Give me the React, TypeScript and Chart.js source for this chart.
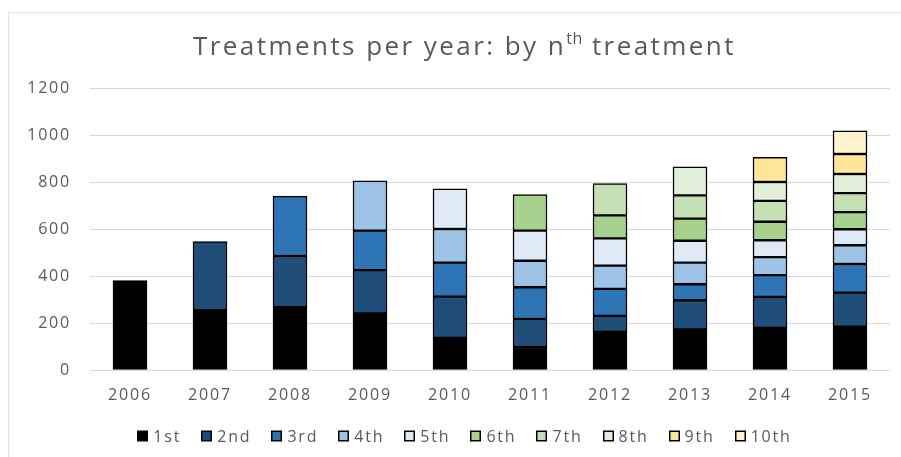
import React, { useEffect, useRef } from "react";
import { Chart, registerables } from "chart.js";

Chart.register(...registerables);

const years = ["2006", "2007", "2008", "2009", "2010", "2011", "2012", "2013", "2014", "2015"];
const seriesLabels = ["1st", "2nd", "3rd", "4th", "5th", "6th", "7th", "8th", "9th", "10th"];
const seriesColors = ["#000000", "#1F4E79", "#2E75B6", "#9DC3E6", "#DEEBF7", "#A9D18E", "#C5E0B4", "#E2F0D9", "#FFE699", "#FFF2CC"];

const s1st = [380, 255, 267, 241, 137, 98, 162, 173, 179, 184];
const s2nd = [null, 291, 218, 184, 175, 119, 68, 124, 132, 145];
const s3rd = [null, null, 255, 168, 145, 135, 115, 68, 93, 122];
const s4th = [null, null, null, 212, 143, 113, 99, 92, 76, 80];
const s5th = [null, null, null, null, 171, 128, 116, 93, 72, 68];
const s6th = [null, null, null, null, null, 153, 98, 94, 79, 73];
const s7th = [null, null, null, null, null, null, 135, 99, 89, 81];
const s8th = [null, null, null, null, null, null, null, 122, 80, 81];
const s9th = [null, null, null, null, null, null, null, null, 105, 85];
const s10th = [null, null, null, null, null, null, null, null, null, 99];

const seriesValues = [s1st, s2nd, s3rd, s4th, s5th, s6th, s7th, s8th, s9th, s10th];

const yTicks = [0, 200, 400, 600, 800, 1000, 1200];

const TITLE_PRE = "Treatments per year: by n";
const TITLE_SUP = "th";
const TITLE_POST = " treatment";

const FONT = "'Open Sans', 'DejaVu Sans', sans-serif";
const TEXT_COLOR = "#595959";

const spacingPlugin = {
  id: "spacing",
  beforeDraw(chart: any) {
    const ctx = chart.ctx as any;
    ctx.letterSpacing = "1.8px";
  },
};

const decorPlugin = {
  id: "decor",
  afterDraw(chart: any) {
    const ctx = chart.ctx as any;
    ctx.save();
    // outer chart border (partially visible)
    ctx.strokeStyle = "#e3e3e3";
    ctx.lineWidth = 1;
    ctx.beginPath();
    ctx.moveTo(8.5, 457);
    ctx.lineTo(8.5, 12.5);
    ctx.lineTo(901, 12.5);
    ctx.stroke();

    // title with superscript
    ctx.fillStyle = TEXT_COLOR;
    ctx.textBaseline = "alphabetic";
    ctx.textAlign = "left";
    const mainFont = `26px ${FONT}`;
    const supFont = `16px ${FONT}`;
    ctx.letterSpacing = "0px";
    ctx.font = mainFont;
    const w1 = ctx.measureText(TITLE_PRE).width;
    const w3 = ctx.measureText(TITLE_POST).width;
    ctx.font = supFont;
    const w2 = ctx.measureText(TITLE_SUP).width;
    const nChars = TITLE_PRE.length + TITLE_POST.length;
    const target = 542;
    let sp = (target - (w1 + w2 + w3)) / nChars;
    if (sp < 0) sp = 0;
    const spStr = sp.toFixed(2) + "px";
    const startX = 464 - target / 2;
    const baseY = 55;
    ctx.font = mainFont;
    ctx.letterSpacing = spStr;
    ctx.fillText(TITLE_PRE, startX, baseY);
    const x2 = startX + w1 + sp * TITLE_PRE.length;
    ctx.font = supFont;
    ctx.letterSpacing = "0.5px";
    ctx.fillText(TITLE_SUP, x2, baseY - 11);
    const x3 = x2 + w2 + 1;
    ctx.font = mainFont;
    ctx.letterSpacing = spStr;
    ctx.fillText(TITLE_POST, x3, baseY);

    // legend
    const legFont = `16px ${FONT}`;
    ctx.font = legFont;
    ctx.letterSpacing = "1.8px";
    const box = 11;
    const gapBoxText = 5;
    const gapItem = 20;
    const widths = seriesLabels.map((l) => ctx.measureText(l).width);
    let total = 0;
    widths.forEach((w, i) => {
      total += box + gapBoxText + w + (i < widths.length - 1 ? gapItem : 0);
    });
    let x = 464.5 - total / 2;
    const cy = 436;
    ctx.textBaseline = "middle";
    seriesLabels.forEach((l, i) => {
      const ds = chart.data.datasets[i];
      ctx.fillStyle = "#000000";
      ctx.fillRect(Math.round(x), cy - box / 2, box, box);
      ctx.fillStyle = ds.backgroundColor;
      ctx.fillRect(Math.round(x) + 1.5, cy - box / 2 + 1.5, box - 3, box - 3);
      ctx.fillStyle = TEXT_COLOR;
      ctx.fillText(l, x + box + gapBoxText, cy + 1);
      x += box + gapBoxText + widths[i] + gapItem;
    });
    ctx.restore();
  },
};

export default function App() {
  const ref = useRef<HTMLCanvasElement | null>(null);
  useEffect(() => {
    document.body.style.margin = "0";
    const canvas = ref.current;
    if (!canvas) return;
    const chart = new Chart(canvas, {
      type: "bar",
      data: {
        labels: years,
        datasets: seriesLabels.map((label, i) => ({
          label,
          data: seriesValues[i] as any,
          backgroundColor: seriesColors[i],
          borderColor: "#000000",
          borderWidth: 1.5,
          borderSkipped: false,
          barThickness: 34,
        })),
      },
      options: {
        responsive: false,
        animation: false,
        devicePixelRatio: 1,
        layout: { padding: { left: 0, right: 11, top: 88, bottom: 0 } },
        plugins: {
          legend: { display: false },
          title: { display: false },
          tooltip: { enabled: false },
        },
        scales: {
          x: {
            stacked: true,
            grid: { display: false, drawTicks: false },
            border: { display: false },
            ticks: {
              color: TEXT_COLOR,
              font: { family: FONT, size: 16 },
              padding: 16,
              maxRotation: 0,
            },
            afterFit(scale: any) {
              scale.height = 87;
            },
          },
          y: {
            stacked: true,
            min: 0,
            max: 1200,
            afterBuildTicks(scale: any) {
              scale.ticks = yTicks.map((v) => ({ value: v }));
            },
            grid: { color: "#d9d9d9", lineWidth: 1, drawTicks: false },
            border: { display: false },
            ticks: {
              color: TEXT_COLOR,
              font: { family: FONT, size: 16 },
              padding: 19,
              callback: (v: any) => String(v),
            },
            afterFit(scale: any) {
              scale.width = 90;
            },
          },
        },
      },
      plugins: [spacingPlugin, decorPlugin],
    });
    return () => chart.destroy();
  }, []);
  return <canvas ref={ref} width={901} height={457} style={{ display: "block" }} />;
}
